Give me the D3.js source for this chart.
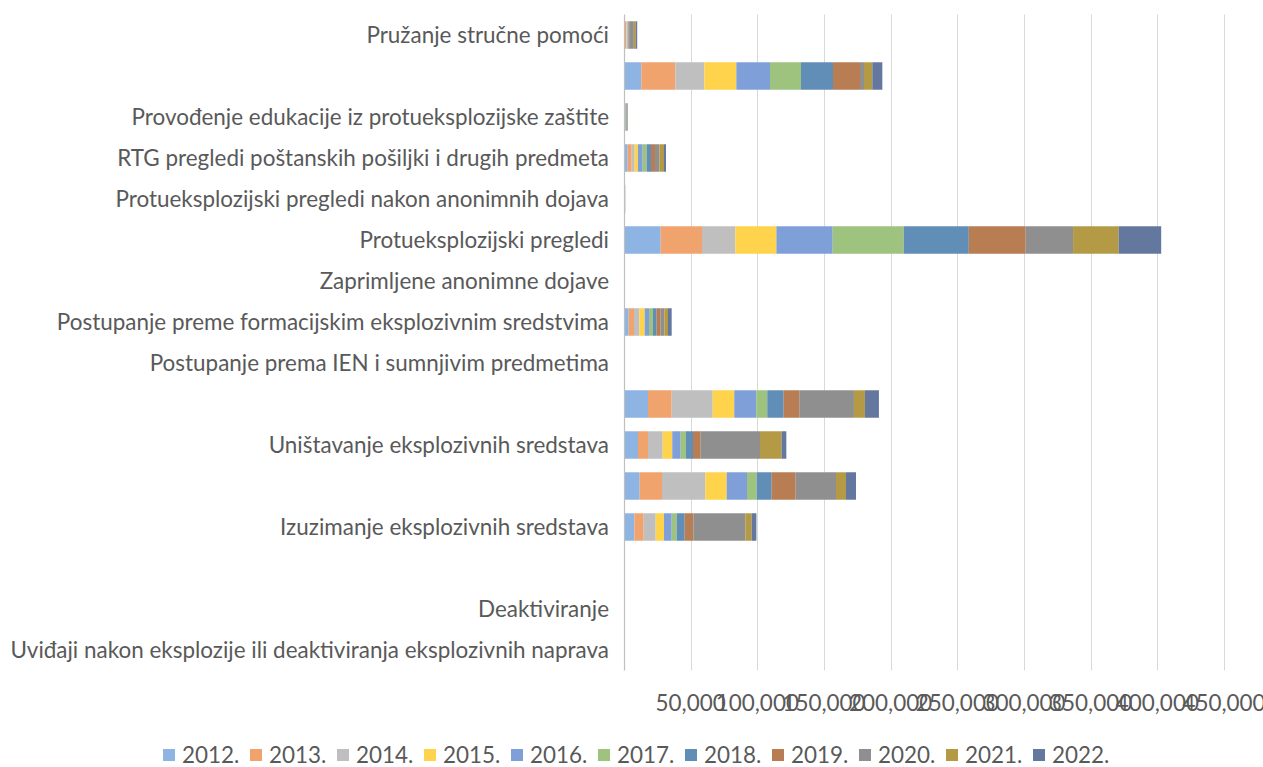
<!DOCTYPE html>
<html>
<head>
<meta charset="utf-8">
<script src="https://cdn.jsdelivr.net/npm/d3@7"></script>
<style>
  html, body { margin: 0; padding: 0; background: #fff; }
  svg text { font-family: Lato, "Open Sans", sans-serif; fill: #595959; }
</style>
</head>
<body>
<svg id="chart" width="1263" height="767"></svg>
<script>
// Categories, top to bottom as drawn ("" = row without a visible label)
const categories = [
  "Pružanje stručne pomoći",
  "",
  "Provođenje edukacije iz protueksplozijske zaštite",
  "RTG pregledi poštanskih pošiljki i drugih predmeta",
  "Protueksplozijski pregledi nakon anonimnih dojava",
  "Protueksplozijski pregledi",
  "Zaprimljene anonimne dojave",
  "Postupanje preme formacijskim eksplozivnim sredstvima",
  "Postupanje prema IEN i sumnjivim predmetima",
  "",
  "Uništavanje eksplozivnih sredstava",
  "",
  "Izuzimanje eksplozivnih sredstava",
  "",
  "Deaktiviranje",
  "Uviđaji nakon eksplozije ili deaktiviranja eksplozivnih naprava"
];

const years = ["2012.", "2013.", "2014.", "2015.", "2016.", "2017.", "2018.", "2019.", "2020.", "2021.", "2022."];

// Values per year, in the category order above
const y2012 = [500, 13000, 200, 2750, 80, 27500, 30, 3500, 60, 18000, 10500, 11750, 7750, 10, 5, 5];
const y2013 = [1200, 25500, 200, 3000, 80, 31000, 30, 4000, 60, 17750, 7500, 16750, 7000, 10, 5, 5];
const y2014 = [400, 21750, 200, 2250, 80, 25000, 30, 4000, 60, 30750, 11000, 32500, 9000, 10, 5, 5];
const y2015 = [400, 24000, 200, 2500, 80, 30800, 30, 4000, 60, 16200, 7200, 16000, 6250, 10, 5, 5];
const y2016 = [400, 25250, 200, 3500, 80, 42200, 30, 3250, 60, 16500, 6300, 15250, 5750, 10, 5, 5];
const y2017 = [400, 23250, 300, 3000, 80, 53300, 30, 3000, 60, 8250, 4000, 7250, 3750, 10, 5, 5];
const y2018 = [500, 24000, 300, 3250, 80, 48800, 30, 2750, 60, 12300, 5250, 11250, 6000, 10, 5, 5];
const y2019 = [600, 20250, 300, 3000, 80, 42700, 30, 3000, 60, 11700, 5750, 18000, 6500, 10, 5, 5];
const y2020 = [3000, 3000, 400, 3250, 100, 35500, 30, 2750, 60, 41000, 44500, 30250, 39000, 10, 5, 5];
const y2021 = [1500, 6250, 300, 3500, 100, 34200, 30, 2750, 60, 8250, 16250, 7500, 4800, 10, 5, 5];
const y2022 = [1000, 7500, 300, 1500, 100, 31900, 30, 2750, 60, 10500, 3500, 7500, 3500, 10, 5, 5];

const seriesValues = [y2012, y2013, y2014, y2015, y2016, y2017, y2018, y2019, y2020, y2021, y2022];
const tickValues = [50000, 100000, 150000, 200000, 250000, 300000, 350000, 400000, 450000];

const colors = ["#8db4e2", "#f1a36e", "#bfbfbf", "#ffd34b", "#7f9fd9", "#9dc37e",
                "#608eb6", "#b87d52", "#8f8f8f", "#b59a46", "#63779f"];

const svg = d3.select("#chart");

// Fit label font to the reference label column width
const probe = svg.append("text").attr("font-size", 20)
  .text(categories[categories.length - 1]);
const w20 = probe.node().getComputedTextLength();
probe.remove();
const fontSize = 20 * 599 / w20;

const plotTop = 14.5, plotBottom = 670.5;
const x = d3.scaleLinear().domain([0, 450000]).range([624, 1224]);
const y = d3.scaleBand().domain(d3.range(categories.length))
  .range([plotTop, plotBottom]).paddingInner(0.33).paddingOuter(0.165);

// Gridlines
svg.append("g").selectAll("line").data(tickValues).join("line")
  .attr("x1", d => Math.round(x(d)) + 0.5).attr("x2", d => Math.round(x(d)) + 0.5)
  .attr("y1", plotTop).attr("y2", plotBottom)
  .attr("stroke", "#d9d9d9").attr("stroke-width", 1);

// Stacked bars
const rows = categories.map((c, i) => {
  const o = { idx: i };
  years.forEach((yr, k) => { o[yr] = seriesValues[k][i]; });
  return o;
});
const stacked = d3.stack().keys(years)(rows);

svg.append("g").selectAll("g").data(stacked).join("g")
  .attr("fill", (d, k) => colors[k])
  .selectAll("rect").data(d => d).join("rect")
  .attr("x", d => x(d[0]))
  .attr("width", d => Math.max(0, x(d[1]) - x(d[0])))
  .attr("y", d => y(d.data.idx))
  .attr("height", y.bandwidth());

// Vertical axis line
svg.append("line")
  .attr("x1", 624.5).attr("x2", 624.5).attr("y1", plotTop).attr("y2", plotBottom)
  .attr("stroke", "#bfbfbf").attr("stroke-width", 1.2);

// Category labels
svg.append("g").selectAll("text").data(categories).join("text")
  .attr("x", 609)
  .attr("y", (d, i) => y(i) + y.bandwidth() / 2)
  .attr("dy", "0.35em")
  .attr("text-anchor", "end")
  .attr("font-size", fontSize)
  .text(d => d);

// X tick labels
const fmt = d3.format(",");
svg.append("g").selectAll("text").data(tickValues).join("text")
  .attr("x", d => x(d))
  .attr("y", 703)
  .attr("dy", "0.35em")
  .attr("text-anchor", "middle")
  .attr("font-size", fontSize)
  .text(d => fmt(d));

// Legend
const legendStep = 87, legendX0 = 163, legendY = 755;
const lg = svg.append("g").selectAll("g").data(years).join("g")
  .attr("transform", (d, k) => `translate(${legendX0 + k * legendStep},${legendY})`);
lg.append("rect").attr("x", 0).attr("y", -6).attr("width", 12).attr("height", 12)
  .attr("fill", (d, k) => colors[k]);
lg.append("text").attr("x", 19).attr("y", 0).attr("dy", "0.35em")
  .attr("font-size", fontSize).text(d => d);
</script>
</body>
</html>
